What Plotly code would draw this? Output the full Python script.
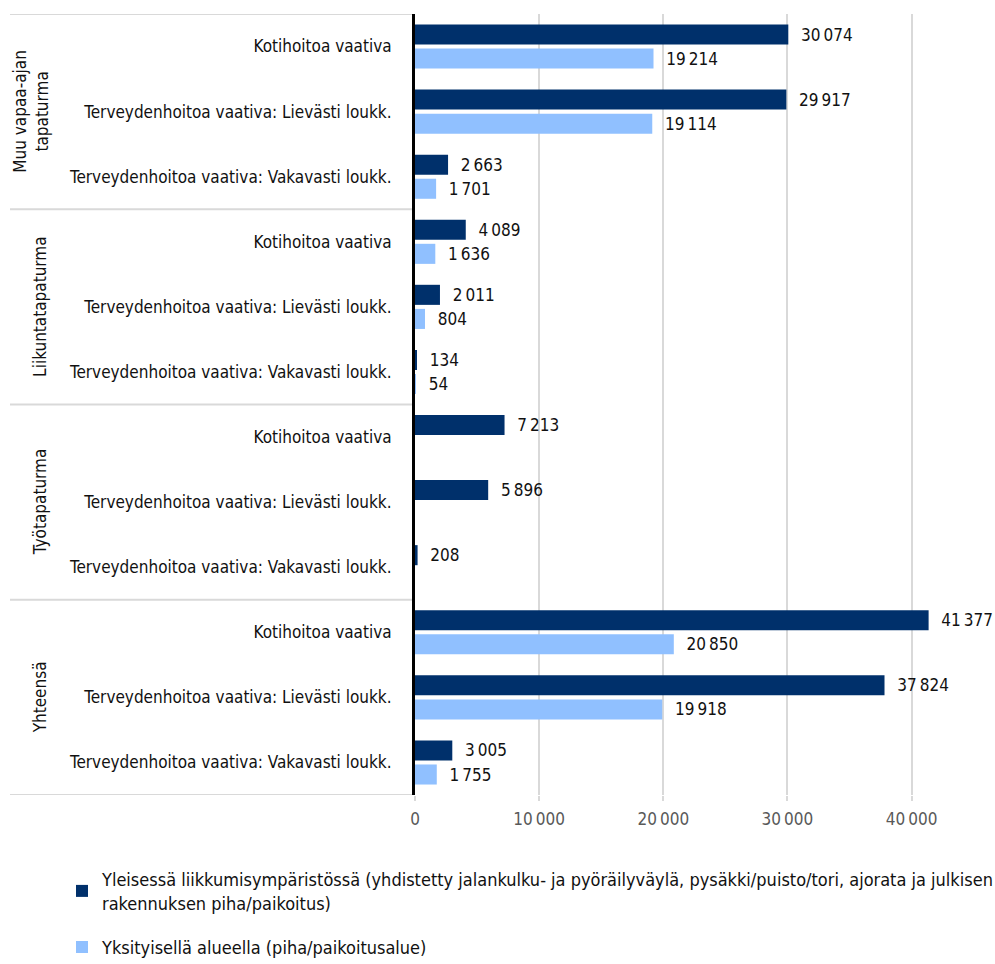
import plotly.graph_objects as go

# Accident groups and injury-severity subcategories
groups = ["Muu vapaa-ajan<br>tapaturma", "Liikuntatapaturma", "Työtapaturma", "Yhteensä"]
subcats = [
    "Kotihoitoa vaativa",
    "Terveydenhoitoa vaativa: Lievästi loukk.",
    "Terveydenhoitoa vaativa: Vakavasti loukk.",
]

# Series names
name_public = ("Yleisessä liikkumisympäristössä (yhdistetty jalankulku- ja pyöräilyväylä, "
               "pysäkki/puisto/tori, ajorata ja julkisen<br>rakennuksen piha/paikoitus)")
name_private = "Yksityisellä alueella (piha/paikoitusalue)"

# Values, 3 rows per group in the order of `groups`
public_vals = [30074, 29917, 2663,
               4089, 2011, 134,
               7213, 5896, 208,
               41377, 37824, 3005]
private_vals = [19214, 19114, 1701,
                1636, 804, 54,
                None, None, None,
                20850, 19918, 1755]

x_ticks = [0, 10000, 20000, 30000, 40000]

FONT = "DejaVu Sans Condensed, Liberation Sans Narrow, sans-serif"
DARK = "#00306B"
LIGHT = "#90C0FF"
TEXT = "#111111"
FS = 17

rows = list(range(len(groups) * len(subcats)))
row_labels = [s for _ in groups for s in subcats]

fig = go.Figure()
label_tpl = "\u00a0\u00a0%{x:,}"
for i, (vals, name, color) in enumerate([(public_vals, name_public, DARK),
                                         (private_vals, name_private, LIGHT)]):
    fig.add_trace(go.Bar(
        y=rows, x=vals, orientation="h", name=name,
        legendgroup=f"g{i}",
        marker=dict(color=color, line=dict(width=0)),
        texttemplate=label_tpl, textposition="outside",
        constraintext="none", cliponaxis=False,
        textfont=dict(family=FONT, size=FS, color=TEXT),
        hoverinfo="x+name",
    ))

L, R, T, B = 415, 9, 14, 169
W, H = 995, 964
plot_w = W - L - R
plot_h = H - T - B

def px_to_paper_x(px):
    return (px - L) / plot_w

def px_to_paper_y(py):
    return (H - B - py) / plot_h

# Group labels (rotated) and group divider lines
annotations = []
shapes = []
n = len(subcats)
for g, label in enumerate(groups):
    two_lines = "<br>" in label
    annotations.append(dict(
        text=label, textangle=-90, showarrow=False,
        xref="paper", yref="y",
        x=px_to_paper_x(31 if two_lines else 40), y=g * n + (n - 1) / 2,
        xanchor="center", yanchor="middle",
        font=dict(family=FONT, size=FS, color=TEXT),
    ))
for g in range(len(groups) + 1):
    shapes.append(dict(
        type="line", xref="paper", yref="y",
        x0=px_to_paper_x(10), x1=0, y0=g * n - 0.5, y1=g * n - 0.5,
        line=dict(color="#d9d9d9", width=2),
        layer="below",
    ))

fig.update_layout(
    width=W, height=H,
    margin=dict(l=L, r=R, t=T, b=B, pad=0, autoexpand=False),
    paper_bgcolor="white", plot_bgcolor="white",
    separators=",\u202f",
    barmode="group", bargap=0.26, bargroupgap=1 / 6,
    font=dict(family=FONT, size=FS, color=TEXT),
    showlegend=True,
    legend=dict(
        orientation="v", x=px_to_paper_x(62), y=px_to_paper_y(861),
        xanchor="left", yanchor="top",
        font=dict(family=FONT, size=18, color=TEXT),
        traceorder="grouped", itemclick=False, itemdoubleclick=False,
        tracegroupgap=18,
    ),
    annotations=annotations,
    shapes=shapes,
    xaxis=dict(
        range=[0, 46000], tickvals=x_ticks, tickformat=",",
        showgrid=True, gridcolor="#d9d9d9", gridwidth=2,
        zeroline=False, showline=False,
        ticks="outside", ticklen=5, tickcolor="#d9d9d9", tickwidth=2,
        ticklabelstandoff=4,
        tickfont=dict(family=FONT, size=FS, color="#595959"),
        fixedrange=True,
    ),
    yaxis=dict(
        range=[len(rows) - 0.5, -0.5],
        tickvals=rows, ticktext=row_labels,
        showgrid=False, zeroline=False,
        showline=True, linecolor="#000000", linewidth=3,
        ticks="", ticklabelstandoff=17,
        tickfont=dict(family=FONT, size=FS, color=TEXT),
        fixedrange=True,
    ),
)

fig.write_html("out.html")
